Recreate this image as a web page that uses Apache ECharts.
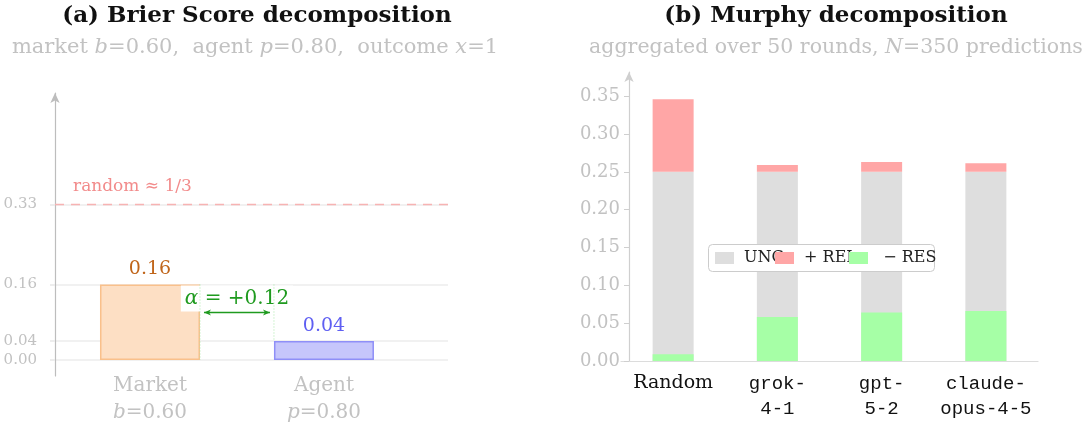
<!DOCTYPE html>
<html><head><meta charset="utf-8">
<script src="https://cdn.jsdelivr.net/npm/echarts@6/dist/echarts.min.js"></script>
<style>html,body{margin:0;padding:0;background:#fff}#c{width:1089px;height:427px}</style>
</head><body><div id="c"></div>
<script>
// ---- data: panel (a) ----
const brierCategories = ['Market', 'Agent'];
const brierParamSymbols = ['b', 'p'];
const brierParamValues = ['0.60', '0.80'];
const brierScores = [0.16, 0.04];
const brierTicks = [0, 0.04, 0.16, 0.33];
const randomBrier = 1 / 3;
const alphaValue = 0.12;

// ---- data: panel (b) ----
const murphyCategories = ['Random', 'grok-4-1', 'gpt-5-2', 'claude-opus-4-5'];
const uncValues = [0.25, 0.25, 0.25, 0.25];
const relValues = [0.096, 0.009, 0.013, 0.0115];
const resValues = [0.009, 0.058, 0.064, 0.066];
const murphyTicks = [0, 0.05, 0.10, 0.15, 0.20, 0.25, 0.30, 0.35];

const SERIF = 'DejaVu Serif';
const MONO = 'Liberation Mono';
const GRAY = '#c2c2c2';

const chart = echarts.init(document.getElementById('c'), null, {renderer: 'canvas'});

const leftColors = [
  {fill: '#fddfc4', border: '#f9c08b', label: '#c0651a'},
  {fill: '#c6c6fb', border: '#8f8ff7', label: '#5f5ff2'}
];

function murphyLabel(name, i) {
  if (i === 0) return '{s|' + name + '}';
  const k = name.indexOf('-');
  return '{m|' + name.slice(0, k + 1) + '}\n{m|' + name.slice(k + 1) + '}';
}

const option = {
  animation: false,
  backgroundColor: '#fff',
  title: [
    {text: '(a) Brier Score decomposition', left: 252, top: 0, textAlign: 'center',
     textStyle: {fontFamily: SERIF, fontWeight: 'bold', fontSize: 23, color: '#111'}},
    {text: 'market {i|b}=0.60,  agent {i|p}=0.80,  outcome {i|x}=1', left: 250, top: 32, textAlign: 'center',
     textStyle: {fontFamily: SERIF, fontWeight: 'normal', fontSize: 21, color: GRAY,
       rich: {i: {fontFamily: SERIF, fontStyle: 'italic', fontWeight: 'normal', fontSize: 21, color: GRAY}}}},
    {text: '(b) Murphy decomposition', left: 831, top: 0, textAlign: 'center',
     textStyle: {fontFamily: SERIF, fontWeight: 'bold', fontSize: 23, color: '#111'}},
    {text: 'aggregated over 50 rounds, {i|N}=350 predictions', left: 831, top: 32, textAlign: 'center',
     textStyle: {fontFamily: SERIF, fontWeight: 'normal', fontSize: 20.5, color: GRAY,
       rich: {i: {fontFamily: SERIF, fontStyle: 'italic', fontWeight: 'normal', fontSize: 20.5, color: GRAY}}}}
  ],
  grid: [
    {left: 55, right: 1089 - 448, top: 93, bottom: 427 - 376},
    {left: 621, right: 1089 - 1038, top: 72, bottom: 427 - 361}
  ],
  xAxis: [
    {gridIndex: 0, type: 'value', min: -0.546, max: 1.713,
     axisLine: {show: false, onZero: false}, axisTick: {show: false}, splitLine: {show: false},
     axisLabel: {customValues: [0, 1], margin: -4, lineHeight: 27, color: GRAY, fontFamily: SERIF, fontSize: 20,
       formatter: v => brierCategories[v] + '\n{i|' + brierParamSymbols[v] + '}{n|=' + brierParamValues[v] + '}',
       rich: {i: {fontFamily: SERIF, fontStyle: 'italic', fontSize: 20, color: GRAY, lineHeight: 27},
              n: {fontFamily: SERIF, fontSize: 20, color: GRAY, lineHeight: 27}}}},
    {gridIndex: 1, type: 'category', data: murphyCategories, boundaryGap: true,
     axisLine: {show: true, onZero: false, lineStyle: {color: '#dcdcdc', width: 1.2}}, axisTick: {show: false}, splitLine: {show: false},
     axisLabel: {margin: 10, interval: 0, formatter: (v, i) => murphyLabel(v, i),
       rich: {s: {fontFamily: SERIF, fontSize: 19, color: '#111', lineHeight: 25},
              m: {fontFamily: MONO, fontSize: 19, color: '#111', lineHeight: 25}}}}
  ],
  yAxis: [
    {gridIndex: 0, type: 'value', min: -0.034, max: 0.566,
     axisLine: {show: true, onZero: false, symbol: ['none', 'arrow'], symbolSize: [7, 10], lineStyle: {color: '#bdbdbd', width: 1.2}},
     axisTick: {show: true, customValues: brierTicks, length: 5, lineStyle: {color: '#e8e8e8', width: 1.5}},
     axisLabel: {customValues: brierTicks, formatter: v => v.toFixed(2), color: GRAY, fontFamily: SERIF, fontSize: 15, margin: 18},
     splitLine: {show: true, lineStyle: {color: '#ececec', width: 1.5}}},
    {gridIndex: 1, type: 'value', min: 0, max: 0.382, offset: -8,
     axisLine: {show: true, onZero: false, symbol: ['none', 'arrow'], symbolSize: [7, 10], lineStyle: {color: '#cfcfcf', width: 1.2}},
     axisTick: {show: true, customValues: murphyTicks, length: 5, lineStyle: {color: '#cfcfcf'}},
     axisLabel: {customValues: murphyTicks, formatter: v => v.toFixed(2), color: GRAY, fontFamily: SERIF, fontSize: 18, margin: 9},
     splitLine: {show: false}}
  ],
  legend: [
    {data: ['UNC'], left: 715, top: 250, padding: 0, itemWidth: 19, itemHeight: 12, icon: 'rect', z: 20,
     formatter: n => ' ' + n, textStyle: {fontFamily: SERIF, fontSize: 16, color: '#222'}},
    {data: ['+REL'], left: 775, top: 250, padding: 0, itemWidth: 19, itemHeight: 12, icon: 'rect', z: 21,
     formatter: () => ' + REL', textStyle: {fontFamily: SERIF, fontSize: 16, color: '#222'}},
    {data: ['−RES'], left: 849, top: 250, padding: 0, itemWidth: 19, itemHeight: 12, icon: 'rect', z: 22,
     formatter: () => '  − RES', textStyle: {fontFamily: SERIF, fontSize: 16, color: '#222'}}
  ],
  graphic: [
    {type: 'rect', left: 708, top: 244, z: 15, shape: {width: 226, height: 27, r: 4},
     style: {fill: '#fff', stroke: '#cccccc', lineWidth: 1}}
  ],
  series: [
    {type: 'bar', xAxisIndex: 0, yAxisIndex: 0, barWidth: 100, z: 3,
     data: brierScores.map((v, i) => ({
       value: [i, v],
       itemStyle: {color: leftColors[i].fill, borderColor: leftColors[i].border, borderWidth: 1.5},
       label: {color: leftColors[i].label}
     })),
     label: {show: true, position: 'top', distance: 6, fontFamily: SERIF, fontSize: 19,
       formatter: p => p.value[1].toFixed(2)},
     markLine: {silent: true, symbol: 'none', z: 4,
       lineStyle: {color: '#f7b3b3', type: [9, 7], width: 1.3},
       label: {position: 'insideStartTop', distance: [18, 9], formatter: 'random ≈ 1/3',
         color: '#f28b8b', fontFamily: SERIF, fontSize: 17},
       data: [{yAxis: randomBrier}]}
    },
    {type: 'custom', xAxisIndex: 0, yAxisIndex: 0, z: 10,
     data: [[0, 1, brierScores[0], brierScores[1], alphaValue]],
     renderItem: function (params, api) {
       const half = 50;
       const x1 = api.coord([api.value(0), 0])[0] + half;
       const x2 = api.coord([api.value(1), 0])[0] - half;
       const yTop = api.coord([0, api.value(2)])[1];
       const y0 = api.coord([0, 0])[1];
       const yB = api.coord([0, api.value(3)])[1];
       const yArrow = yTop + 28;
       const green = '#1f9a1f';
       const ax1 = x1 + 4, ax2 = x2 - 4;
       return {type: 'group', children: [
         {type: 'text', z2: 1, style: {text: '{i|α} = +' + api.value(4).toFixed(2), x: (x1 + x2) / 2, y: yTop + 14,
           align: 'center', verticalAlign: 'middle', fill: green, font: '20px ' + SERIF,
           backgroundColor: '#fff', padding: [3, 4, 3, 4],
           rich: {i: {fontStyle: 'italic', fontFamily: SERIF, fontSize: 20, fill: green}}}},
         {type: 'line', z2: 2, shape: {x1: x1, y1: yTop, x2: x1, y2: y0},
           style: {stroke: '#a8e8a8', lineWidth: 1, lineDash: [1, 2]}},
         {type: 'line', z2: 2, shape: {x1: x2, y1: yTop, x2: x2, y2: yB},
           style: {stroke: '#a8e8a8', lineWidth: 1, lineDash: [1, 2]}},
         {type: 'line', z2: 3, shape: {x1: ax1, y1: yArrow, x2: ax2, y2: yArrow},
           style: {stroke: green, lineWidth: 1.3}},
         {type: 'polygon', z2: 3, shape: {points: [[ax1, yArrow], [ax1 + 7, yArrow - 3], [ax1 + 5, yArrow], [ax1 + 7, yArrow + 3]]},
           style: {fill: green}},
         {type: 'polygon', z2: 3, shape: {points: [[ax2, yArrow], [ax2 - 7, yArrow - 3], [ax2 - 5, yArrow], [ax2 - 7, yArrow + 3]]},
           style: {fill: green}}
       ]};
     }
    },
    {name: 'UNC', type: 'bar', xAxisIndex: 1, yAxisIndex: 1, stack: 'brier', barWidth: 41,
     itemStyle: {color: '#dedede'}, data: uncValues},
    {name: '+REL', type: 'bar', xAxisIndex: 1, yAxisIndex: 1, stack: 'brier', barWidth: 41,
     itemStyle: {color: '#ffa6a6'}, data: relValues},
    {name: '−RES', type: 'bar', xAxisIndex: 1, yAxisIndex: 1, barWidth: 41, barGap: '-100%', z: 5,
     itemStyle: {color: '#a6ffa6'}, data: resValues}
  ]
};
chart.setOption(option);
</script>
</body></html>
